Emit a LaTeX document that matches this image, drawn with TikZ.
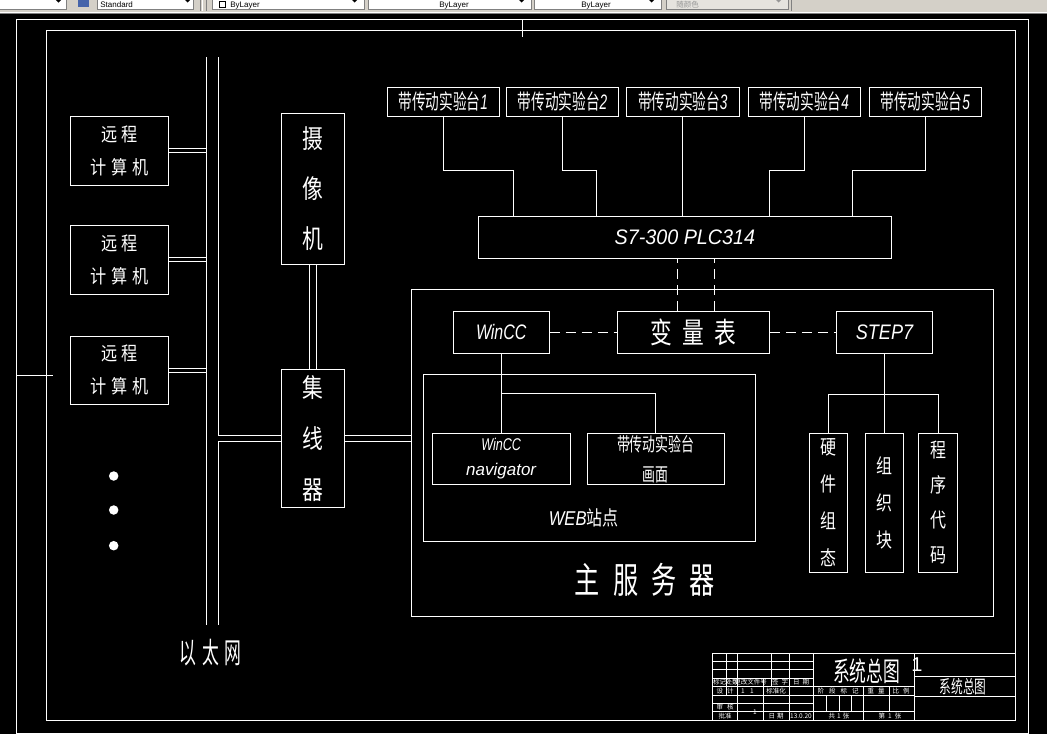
\documentclass[tikz,border=0pt]{standalone}
\usepackage{fontspec}
\setmainfont{Liberation Sans}
\newfontfamily\cjk{Noto Sans CJK SC}
\usepackage{graphicx}
\usetikzlibrary{positioning}
\definecolor{barbg}{RGB}{212,208,200}
\definecolor{bardark}{RGB}{128,128,128}
\definecolor{bardim}{RGB}{150,150,150}
\definecolor{iconblue}{RGB}{70,100,170}
\newcommand\cn[2][1]{\scalebox{#1}[1]{\cjk #2}}
\newcommand\lat[2][1]{\scalebox{#1}[1]{\itshape #2}}
\newcommand\stn[1]{\scalebox{0.65}[1]{\cjk 带传动实验台\rmfamily\itshape #1}}
\newcommand\tbfont{\fontsize{6.5}{6.5}\selectfont\cjk}

\begin{document}
\begin{tikzpicture}[x=1pt, y=-1pt, line width=0.8pt,
      every node/.style={text=white, inner sep=0pt},
      blk/.style={draw=white, line width=0.8pt},
      dbl/.style={draw=white, double=black, double distance=#1, line width=0.8pt},
      dsh/.style={draw=white, dash pattern=on 10pt off 6pt},
      lnk/.style={draw=white},
      bullet/.style={circle, fill=white, minimum size=9.5pt},
      ddbox/.style={fill=white, draw=bardark, line width=0.5pt, minimum height=16, anchor=south west},
      ddtxt/.style={anchor=base west, text=black, font=\fontsize{8}{8}\selectfont},
      small/.style={font=\tbfont},
    ]
    \useasboundingbox (0,0) rectangle (1047,734);

    % ─── toolbar strip (top of the screenshot) ─────────────────────────
    \fill[barbg] (0,0) rectangle (1047,14);
    \draw[white, line width=0.6pt] (0,12) -- (1047,12);
    \draw[bardark, line width=0.6pt] (0,13.4) -- (1047,13.4);
    \node[ddbox, minimum width=68] (tblay) at (-2,9.5) {};
    \fill[black] (55,-1) -- (62,-1) -- (58.5,2.5) -- cycle;
    \fill[iconblue] (78,-2) rectangle (89,7);
    \node[ddbox, minimum width=96] (tbstyle) at (97,9.5) {};
    \node[ddtxt] (tbstyletxt) at (100,7.5) {Standard};
    \fill[black] (184,-1) -- (191,-1) -- (187.5,2.5) -- cycle;
    \draw[bardark, line width=0.6pt] (200,0) -- (200,11) (206,0) -- (206,11);
    \draw[white, line width=0.6pt] (202,0) -- (202,11);
    \node[ddbox, minimum width=152] (tbcol) at (212,9.5) {};
    \draw[black, line width=0.5pt] (219,1.5) rectangle (225,7.5);
    \node[ddtxt] (tbcoltxt) at (230,7.5) {ByLayer};
    \fill[black] (351,-1) -- (358,-1) -- (354.5,2.5) -- cycle;
    \node[ddbox, minimum width=163] (tbltype) at (368,9.5) {};
    \draw[black, line width=1pt] (375,-1) -- (434,-1);
    \node[ddtxt] (tbltypetxt) at (439,7.5) {ByLayer};
    \fill[black] (518,-1) -- (525,-1) -- (521.5,2.5) -- cycle;
    \node[ddbox, minimum width=127] (tblw) at (534,9.5) {};
    \draw[black, line width=1pt] (541,-1) -- (575,-1);
    \node[ddtxt] (tblwtxt) at (581,7.5) {ByLayer};
    \fill[black] (648,-1) -- (655,-1) -- (651.5,2.5) -- cycle;
    \node[ddbox, fill=barbg!60!white, minimum width=122] (tbplot) at (666,9.5) {};
    \node[ddtxt, text=bardim, font=\fontsize{7.5}{7.5}\selectfont\cjk] (tbplottxt) at (676,7.5) {随颜色};
    \fill[bardim] (775,-1) -- (782,-1) -- (778.5,2.5) -- cycle;
    \draw[bardark, line width=0.6pt] (791,0) -- (791,11);

    % ─── drawing frame ────────────────────────────────────────────────
    \fill[black] (0,14) rectangle (1047,734);
    \draw[white] (16,19) rectangle (1028,733);
    \draw[white] (46,30) rectangle (1015,720);
    \draw[white] (522,19) -- (522,37);
    \draw[white] (16,375) -- (53,375);

    % ─── Ethernet side ────────────────────────────────────────────────
    \coordinate (busLT) at (206,57);
    \coordinate (busLB) at (206,625);
    \coordinate (busRT) at (218,57);
    \coordinate (busRB) at (218,625);

    \node[blk, minimum width=98.5, minimum height=69, align=center,
          font=\fontsize{19}{33}\selectfont] (pc1) at (119.5,150.5)
      {\cn[0.85]{远\hspace{4pt}程}\\\cn[0.85]{计\hspace{6pt}算\hspace{6pt}机}};
    \node[blk, minimum width=98.5, minimum height=69, align=center,
          font=\fontsize{19}{33}\selectfont] (pc2) at (119.5,259.8)
      {\cn[0.85]{远\hspace{4pt}程}\\\cn[0.85]{计\hspace{6pt}算\hspace{6pt}机}};
    \node[blk, minimum width=98.5, minimum height=68, align=center,
          font=\fontsize{19}{33}\selectfont] (pc3) at (119.5,370.3)
      {\cn[0.85]{远\hspace{4pt}程}\\\cn[0.85]{计\hspace{6pt}算\hspace{6pt}机}};

    \node[bullet] (d1) at (113.7,476) {};
    \node[bullet] (d2) at (113.7,510) {};
    \node[bullet] (d3) at (113.7,545.7) {};

    \node[blk, minimum width=63, minimum height=151, align=center,
          font=\fontsize{26}{50}\selectfont] (cam) at (312.8,188.8)
      {\cn[0.8]{摄}\\\cn[0.8]{像}\\\cn[0.8]{机}};
    \node[blk, minimum width=63, minimum height=137.7, align=center,
          font=\fontsize{26}{51}\selectfont] (hub) at (312.8,438.2)
      {\cn[0.8]{集}\\\cn[0.8]{线}\\\cn[0.8]{器}};

    \node[font=\fontsize{29}{29}\selectfont] (ethlbl) at (210.7,652.7)
      {\cn[0.58]{以\hspace{10pt}太\hspace{10pt}网}};

    % ─── bench stations and PLC ───────────────────────────────────────
    \node[blk, minimum width=112.3, minimum height=29, font=\fontsize{21}{21}\selectfont]
      (st1) at (443.2,101.8) {\stn{1}};
    \node[blk, minimum width=112.3, minimum height=29, font=\fontsize{21}{21}\selectfont]
      (st2) at (562.5,101.8) {\stn{2}};
    \node[blk, minimum width=112.3, minimum height=29, font=\fontsize{21}{21}\selectfont]
      (st3) at (682.8,101.8) {\stn{3}};
    \node[blk, minimum width=112.3, minimum height=29, font=\fontsize{21}{21}\selectfont]
      (st4) at (804.3,101.8) {\stn{4}};
    \node[blk, minimum width=112.3, minimum height=29, font=\fontsize{21}{21}\selectfont]
      (st5) at (925.2,101.8) {\stn{5}};

    \node[blk, minimum width=413.7, minimum height=42, font=\fontsize{21}{21}\selectfont]
      (plc) at (684.9,237.3) {\lat[0.94]{S7-300 PLC314}};

    \draw[lnk] (st1.south) -- ++(0,53.7) -| ([xshift=-171.6pt]plc.north);
    \draw[lnk] (st2.south) -- ++(0,53.7) -| ([xshift=-88.6pt]plc.north);
    \draw[lnk] (st3.south) -- (st3.south |- plc.north);
    \draw[lnk] (st4.south) -- ++(0,53.7) -| ([xshift=84.6pt]plc.north);
    \draw[lnk] (st5.south) -- ++(0,53.7) -| ([xshift=167.6pt]plc.north);

    % ─── main server ──────────────────────────────────────────────────
    \node[blk, minimum width=581.5, minimum height=326.7] (server) at (702.2,452.7) {};
    \node[font=\fontsize{36}{36}\selectfont] (srvlbl) at (645,580)
      {\cn[0.7]{主\hspace{18.7pt}服\hspace{18.7pt}务\hspace{18.7pt}器}};

    \node[blk, minimum width=96, minimum height=42, font=\fontsize{21}{21}\selectfont]
      (wincc) at (501.2,332.3) {\lat[0.76]{WinCC}};
    \node[blk, minimum width=152.3, minimum height=42, font=\fontsize{29}{29}\selectfont]
      (vars) at (693.2,332.3) {\cn[0.75]{变\hspace{13.7pt}量\hspace{13.7pt}表}};
    \node[blk, minimum width=96.4, minimum height=42, font=\fontsize{21}{21}\selectfont]
      (step7) at (884.5,332.3) {\lat[0.86]{STEP7}};

    \draw[dsh] ([xshift=-15.6pt]vars.north) -- ([xshift=-15.6pt]vars.north |- plc.south);
    \draw[dsh] ([xshift=21.4pt]vars.north) -- ([xshift=21.4pt]vars.north |- plc.south);
    \draw[dsh] (wincc.east) -- (vars.west);
    \draw[dsh] (vars.east) -- (step7.west);

    % WEB site
    \node[blk, minimum width=332.2, minimum height=167.4] (web) at (589.4,458) {};
    \node[font=\fontsize{20}{20}\selectfont] (weblbl) at (583.7,518.3)
      {\lat[0.83]{WEB}\cn[0.8]{站点}};
    \node[blk, minimum width=138.6, minimum height=51, align=center,
          font=\fontsize{17}{25}\selectfont] (nav) at (501.2,458.8)
      {\lat[0.74]{WinCC}\\\lat{navigator}};
    \node[blk, minimum width=137.4, minimum height=51, align=center,
          font=\fontsize{19}{30}\selectfont] (pic) at (655.8,458.8)
      {\cn[0.68]{带传动实验台}\\\cn[0.68]{画面}};

    \coordinate (wjoin) at (501.2,393.7);
    \draw[lnk] (wincc.south) -- (nav.north);
    \draw[lnk] (wjoin) -| (pic.north);

    % STEP7 parts
    \node[blk, minimum width=38.3, minimum height=139, align=center,
          font=\fontsize{20}{37}\selectfont] (hw) at (828.6,502.8)
      {\cn[0.8]{硬}\\\cn[0.8]{件}\\\cn[0.8]{组}\\\cn[0.8]{态}};
    \node[blk, minimum width=38.3, minimum height=139, align=center,
          font=\fontsize{20}{37}\selectfont] (ob) at (884.5,502.8)
      {\cn[0.8]{组}\\\cn[0.8]{织}\\\cn[0.8]{块}};
    \node[blk, minimum width=38.3, minimum height=139, align=center,
          font=\fontsize{20}{35}\selectfont] (code) at (938,502.8)
      {\cn[0.8]{程}\\\cn[0.8]{序}\\\cn[0.8]{代}\\\cn[0.8]{码}};

    \coordinate (sjoin) at (884.5,394.3);
    \draw[lnk] (step7.south) -- (ob.north);
    \draw[lnk] (hw.north) |- (sjoin) -| (code.north);

    % ─── Ethernet bus and double links ────────────────────────────────
    \draw[lnk] (busLT) -- (busLB);
    \draw[lnk] (busRT) -- (busRB);
    \draw[dbl=3.2pt] (pc1.east) -- (pc1.east -| busLT);
    \draw[dbl=3.2pt] (pc2.east) -- (pc2.east -| busLT);
    \draw[dbl=3.2pt] (pc3.east) -- (pc3.east -| busLT);
    \draw[dbl=5.2pt] (hub.west) -- (hub.west -| busRT);
    \draw[dbl=5.2pt] (hub.east) -- (hub.east -| server.west);
    \draw[dbl=6pt] (cam.south) -- (hub.north);

    % ─── title block ──────────────────────────────────────────────────
    \draw[white] (712.3,653.3) rectangle (1015,720);
    \foreach \y in {661.7,669.7,678,686.7,695,703.3,711.7}
      \draw[white] (712.3,\y) -- (813.3,\y);
    \draw[white] (726.7,653.3) -- (726.7,695);
    \draw[white] (737.7,653.3) -- (737.7,720);
    \draw[white] (763.3,678) -- (763.3,720);
    \draw[white] (771.7,653.3) -- (771.7,686.7);
    \draw[white] (789,653.3) -- (789,720);
    \draw[white] (813.3,653.3) -- (813.3,720);
    \draw[white] (813.3,686.7) -- (914.3,686.7);
    \draw[white] (813.3,695) -- (914.3,695);
    \draw[white] (813.3,711.7) -- (914.3,711.7);
    \foreach \x in {826.7,839,851.7}
      \draw[white] (\x,695) -- (\x,711.7);
    \draw[white] (863.3,686.7) -- (863.3,720);
    \draw[white] (889.3,686.7) -- (889.3,711.7);
    \draw[white] (914.3,653.3) -- (914.3,720);
    \draw[white] (914.3,676.5) -- (1015,676.5);
    \draw[white] (914.3,696.7) -- (1015,696.7);

    \node[small] (tb1) at (719.5,682.3) {标记};
    \node[small] (tb2) at (732.2,682.3) {处数};
    \node[small] (tb3) at (750.5,682.3) {更改文件号};
    \node[small] (tb4) at (780,682.3) {签\hspace{3pt}字};
    \node[small] (tb5) at (801,682.3) {日\hspace{3pt}期};
    \node[small] (tb6) at (725,690.8) {设\hspace{4pt}计};
    \node[small] (tb7) at (743,690.8) {1};
    \node[small] (tb8) at (752,690.8) {1};
    \node[small] (tb9) at (776,690.8) {标准化};
    \node[small] (tb10) at (725,707.5) {审\hspace{4pt}核};
    \node[small] (tb11) at (725,715.8) {批准};
    \node[small] (tb12) at (755,712.5) {1};
    \node[small] (tb13) at (776,715.8) {日\hspace{2pt}期};
    \node[small] (tb14) at (801,715.8) {13.0.20};
    \node[small] (tb15) at (838,690.8) {阶\hspace{5pt}段\hspace{5pt}标\hspace{5pt}记};
    \node[small] (tb16) at (876,690.8) {重\hspace{4pt}量};
    \node[small] (tb17) at (901,690.8) {比\hspace{4pt}例};
    \node[small] (tb18) at (839,715.8) {共\hspace{2pt}1\hspace{2pt}张};
    \node[small] (tb19) at (890,715.8) {第\hspace{3pt}1\hspace{3pt}张};

    \node[font=\fontsize{27}{27}\selectfont] (dwgtitle) at (866.7,670.7) {\cn[0.62]{系统总图}};
    \node[font=\fontsize{20}{20}\selectfont] (dwgno) at (917,665) {1};
    \node[font=\fontsize{18}{18}\selectfont] (dwgname) at (963,687) {\cn[0.65]{系统总图}};

  \end{tikzpicture}
\end{document}
